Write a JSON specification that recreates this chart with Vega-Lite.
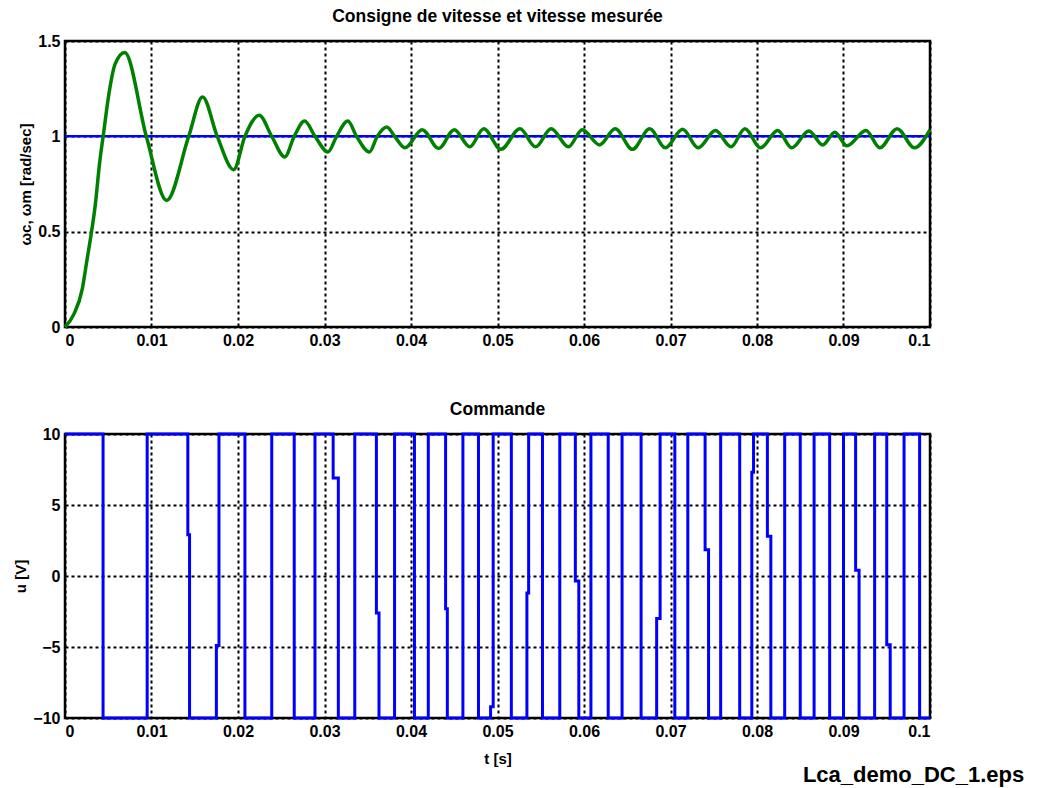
{
  "$schema": "https://vega.github.io/schema/vega-lite/v6.json",
  "background": "white",
  "padding": {"left": 12, "top": 6, "right": 10, "bottom": 5},
  "title": {"text": "Lca_demo_DC_1.eps", "orient": "bottom", "anchor": "end", "fontSize": 22, "fontWeight": "bold", "font": "Liberation Sans", "color": "black", "offset": -2, "dx": 86},
  "config": {
    "font": "Liberation Sans",
    "view": {"stroke": "black", "strokeWidth": 2.5},
    "axis": {
      "labelFont": "Liberation Sans", "labelFontSize": 16, "labelFontWeight": "bold", "labelColor": "black",
      "titleFont": "Liberation Sans", "titleFontSize": 15, "titleFontWeight": "bold", "titleColor": "black",
      "domain": false, "ticks": false, "labelPadding": 5, "titlePadding": 4,
      "grid": true, "gridColor": "black", "gridDash": [3, 3], "gridWidth": 2, "gridOpacity": 1
    },
    "title": {"fontSize": 17.5, "fontWeight": "bold", "color": "black", "font": "Liberation Sans", "offset": 8},
    "concat": {"spacing": 49}
  },
  "datasets": {
    "omega": [
      {"t": 0, "w": 0}, {"t": 0.001, "w": 0.065}, {"t": 0.002, "w": 0.2}, {"t": 0.0025, "w": 0.34},
      {"t": 0.003, "w": 0.48}, {"t": 0.0035, "w": 0.64}, {"t": 0.004, "w": 0.86}, {"t": 0.0045, "w": 1.03},
      {"t": 0.005, "w": 1.2}, {"t": 0.0058, "w": 1.38}, {"t": 0.0069, "w": 1.44},
      {"t": 0.0094, "w": 1.0}, {"t": 0.01175, "w": 0.664}, {"t": 0.0143, "w": 1.0}, {"t": 0.0159, "w": 1.206},
      {"t": 0.0176, "w": 1.0}, {"t": 0.0195, "w": 0.825}, {"t": 0.0208, "w": 1.0}, {"t": 0.02245, "w": 1.11},
      {"t": 0.0239, "w": 1.0}, {"t": 0.0254, "w": 0.892}, {"t": 0.0265, "w": 1.0}, {"t": 0.0277, "w": 1.08},
      {"t": 0.0289, "w": 1.0}, {"t": 0.0304, "w": 0.918}, {"t": 0.0314, "w": 1.0}, {"t": 0.0327, "w": 1.08},
      {"t": 0.0337, "w": 1.0}, {"t": 0.0352, "w": 0.918}, {"t": 0.0361, "w": 1.0}, {"t": 0.0372, "w": 1.049},
      {"t": 0.0381, "w": 1.0}, {"t": 0.0393, "w": 0.94},
      {"t": 0.0413, "w": 1.035}, {"t": 0.0432, "w": 0.936}, {"t": 0.045, "w": 1.035}, {"t": 0.0468, "w": 0.945},
      {"t": 0.0484, "w": 1.04}, {"t": 0.0504, "w": 0.932}, {"t": 0.0526, "w": 1.04}, {"t": 0.0544, "w": 0.945},
      {"t": 0.0562, "w": 1.04}, {"t": 0.0582, "w": 0.945}, {"t": 0.0598, "w": 1.035}, {"t": 0.0618, "w": 0.955},
      {"t": 0.0636, "w": 1.04}, {"t": 0.0656, "w": 0.932}, {"t": 0.0676, "w": 1.04}, {"t": 0.0694, "w": 0.94},
      {"t": 0.0714, "w": 1.037}, {"t": 0.0732, "w": 0.94}, {"t": 0.0752, "w": 1.03}, {"t": 0.077, "w": 0.945},
      {"t": 0.0786, "w": 1.04}, {"t": 0.0804, "w": 0.94}, {"t": 0.0824, "w": 1.03}, {"t": 0.084, "w": 0.94},
      {"t": 0.086, "w": 1.028}, {"t": 0.0876, "w": 0.955}, {"t": 0.089, "w": 1.022}, {"t": 0.0904, "w": 0.95},
      {"t": 0.0926, "w": 1.03}, {"t": 0.0942, "w": 0.94}, {"t": 0.0962, "w": 1.04}, {"t": 0.0982, "w": 0.94},
      {"t": 0.1, "w": 1.035}
    ],
    "cons": [{"t": 0, "w": 1}, {"t": 0.1, "w": 1}],
    "u": [
      {"t": 0, "u": 10}, {"t": 0.0044, "u": -10}, {"t": 0.0095, "u": 10}, {"t": 0.0142, "u": 2.9},
      {"t": 0.0144, "u": -10}, {"t": 0.0175, "u": -4.9}, {"t": 0.0178, "u": 10}, {"t": 0.0208, "u": -10},
      {"t": 0.0239, "u": 10}, {"t": 0.0265, "u": -10}, {"t": 0.0289, "u": 10}, {"t": 0.031, "u": 6.9},
      {"t": 0.0316, "u": -10}, {"t": 0.0335, "u": 10}, {"t": 0.036, "u": -2.6}, {"t": 0.0363, "u": -10},
      {"t": 0.0381, "u": 10}, {"t": 0.0404, "u": -10}, {"t": 0.042, "u": 10}, {"t": 0.044, "u": -2.3},
      {"t": 0.0442, "u": -10}, {"t": 0.046, "u": 10}, {"t": 0.0478, "u": -10}, {"t": 0.0492, "u": -9.2},
      {"t": 0.0495, "u": 10}, {"t": 0.0516, "u": -10}, {"t": 0.0534, "u": -1.2}, {"t": 0.0536, "u": 10},
      {"t": 0.0552, "u": -10}, {"t": 0.0572, "u": 10}, {"t": 0.059, "u": -0.35}, {"t": 0.0594, "u": -10},
      {"t": 0.0608, "u": 10}, {"t": 0.0628, "u": -10}, {"t": 0.0644, "u": 10}, {"t": 0.0666, "u": -10},
      {"t": 0.0684, "u": -3.0}, {"t": 0.0688, "u": 10}, {"t": 0.0705, "u": -10}, {"t": 0.072, "u": 10},
      {"t": 0.074, "u": 1.85}, {"t": 0.0744, "u": -10}, {"t": 0.0758, "u": 10}, {"t": 0.078, "u": -10},
      {"t": 0.0794, "u": 7.3}, {"t": 0.0796, "u": 10}, {"t": 0.0812, "u": 2.8}, {"t": 0.0816, "u": -10},
      {"t": 0.0832, "u": 10}, {"t": 0.085, "u": -10}, {"t": 0.0866, "u": 10}, {"t": 0.0884, "u": -10},
      {"t": 0.09, "u": 10}, {"t": 0.0914, "u": 0.4}, {"t": 0.0918, "u": -10}, {"t": 0.0936, "u": 10},
      {"t": 0.095, "u": -4.85}, {"t": 0.0954, "u": -10}, {"t": 0.097, "u": 10}, {"t": 0.0988, "u": -10},
      {"t": 0.1, "u": -10}
    ]
  },
  "vconcat": [
    {
      "title": "Consigne de vitesse et vitesse mesurée",
      "width": 865, "height": 286,
      "layer": [
        {
          "data": {"name": "cons"},
          "mark": {"type": "line", "color": "#0000FF", "strokeWidth": 2.5},
          "encoding": {
            "x": {"field": "t", "type": "quantitative", "scale": {"domain": [0, 0.1], "nice": false},
                  "axis": {"values": [0, 0.01, 0.02, 0.03, 0.04, 0.05, 0.06, 0.07, 0.08, 0.09, 0.1], "format": "~g", "title": null}},
            "y": {"field": "w", "type": "quantitative", "scale": {"domain": [0, 1.5], "nice": false},
                  "axis": {"values": [0, 0.5, 1, 1.5], "format": "~g", "title": "ωc, ωm [rad/sec]"}}
          }
        },
        {
          "data": {"name": "omega"},
          "mark": {"type": "line", "color": "#008000", "strokeWidth": 3.5, "interpolate": "monotone"},
          "encoding": {
            "x": {"field": "t", "type": "quantitative"},
            "y": {"field": "w", "type": "quantitative"}
          }
        }
      ]
    },
    {
      "title": "Commande",
      "width": 865, "height": 284,
      "data": {"name": "u"},
      "mark": {"type": "line", "color": "#0000FF", "strokeWidth": 3, "interpolate": "step-after", "clip": false},
      "encoding": {
        "x": {"field": "t", "type": "quantitative", "scale": {"domain": [0, 0.1], "nice": false},
              "axis": {"values": [0, 0.01, 0.02, 0.03, 0.04, 0.05, 0.06, 0.07, 0.08, 0.09, 0.1], "format": "~g", "title": "t [s]", "titlePadding": 12}},
        "y": {"field": "u", "type": "quantitative", "scale": {"domain": [-10, 10], "nice": false},
              "axis": {"values": [-10, -5, 0, 5, 10], "format": ".0f", "title": "u [V]"}}
      }
    }
  ]
}
